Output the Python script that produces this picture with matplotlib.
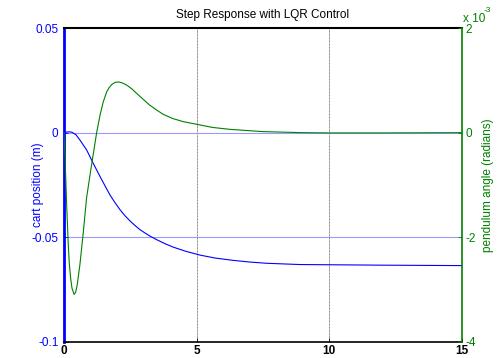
import matplotlib
matplotlib.use("Agg")
import matplotlib.pyplot as plt

# ---- data ----
t_cart = [0, 0.1, 0.2, 0.3, 0.45, 0.6, 0.72, 0.85, 0.98, 1.1, 1.23, 1.36, 1.55,
          1.73, 1.92, 2.11, 2.3, 2.49, 2.68, 2.86, 3.05, 3.24, 3.49, 3.8, 4.12,
          4.6, 5.13, 5.7, 6.37, 7.0, 7.64, 8.9, 10, 12, 15]
cart_pos = [0, 0.0003, 0.0004, 0.0002, -0.001, -0.0035, -0.0058, -0.0082,
            -0.0115, -0.0146, -0.0178, -0.021, -0.0255, -0.0297, -0.0334,
            -0.0368, -0.0397, -0.0422, -0.0444, -0.0463, -0.0479, -0.0494,
            -0.0511, -0.053, -0.0547, -0.0567, -0.0585, -0.0599, -0.061, -0.0618,
            -0.0624, -0.063, -0.0631, -0.0633, -0.0635]

t_pend = [0, 0.04, 0.1, 0.16, 0.2, 0.25, 0.3, 0.38, 0.44, 0.5, 0.6, 0.73, 0.85,
          0.98, 1.1, 1.23, 1.36, 1.48, 1.61, 1.7, 1.8, 1.92, 2.05, 2.2, 2.36,
          2.55, 2.74, 2.98, 3.22, 3.5, 3.74, 4.1, 4.5, 5.0, 5.6, 6.26, 7.5, 9,
          10, 12, 15]
pend_angle_e3 = [0, -0.49, -1.38, -2.14, -2.5, -2.78, -2.97, -3.09, -3.05,
                 -2.9, -2.52, -1.89, -1.25, -0.81, -0.42, 0, 0.34, 0.59, 0.78,
                 0.86, 0.92, 0.96, 0.97, 0.95, 0.91, 0.84, 0.75, 0.64, 0.53,
                 0.43, 0.35, 0.27, 0.21, 0.16, 0.10, 0.063, 0.02, 0.0, -0.005,
                 -0.005, 0]

x_ticks = [0, 5, 10, 15]
left_ticks = [-0.1, -0.05, 0, 0.05]
left_labels = ["-0.1", "-0.05", "0", "0.05"]
right_ticks = [-4, -2, 0, 2]
right_labels = ["-4", "-2", "0", "2"]

title = "Step Response with LQR Control"
left_label = "cart position (m)"
right_label = "pendulum angle (radians)"

# ---- plot ----
W, H = 498, 358
plt.rcParams['font.family'] = ['Liberation Sans', 'DejaVu Sans']
fig = plt.figure(figsize=(W / 100, H / 100), dpi=100)

blue = '#0000ff'
green = '#008000'

ax = fig.add_axes([64 / W, 1 - 342 / H, (462 - 64) / W, (342 - 28) / H])
ax2 = ax.twinx()

ax.plot(t_cart, cart_pos, color=blue, lw=0.8, zorder=3)
ax2.plot(t_pend, pend_angle_e3, color=green, lw=0.8, zorder=3)

ax.set_xlim(0, 15)
ax.set_ylim(-0.1, 0.05)
ax2.set_ylim(-4, 2)

ax.set_xticks(x_ticks)
ax.set_xticklabels([str(v) for v in x_ticks], fontweight='bold', fontsize=8.5)
ax.set_yticks(left_ticks)
ax.set_yticklabels(left_labels, color=blue, fontsize=8.5)
ax2.set_yticks(right_ticks)
ax2.set_yticklabels(right_labels, color=green, fontsize=8.5)

ax.tick_params(axis='x', direction='in', length=3, width=0.6, pad=2.5)
ax.tick_params(axis='y', direction='in', length=3, width=0.6, pad=4,
               colors=blue, labelcolor=blue)
ax2.tick_params(axis='y', direction='in', length=3, width=0.6, colors=green,
                labelcolor=green, pad=2.5)

# grids
for xv in [5, 10]:
    ax.axvline(xv, color='#808080', lw=0.7, ls=(0, (1, 0.5)), zorder=1)
for yv in [0, -0.05]:
    ax.axhline(yv, color='#9999ff', lw=0.8, zorder=1)

# spines
ax.spines['left'].set_color(blue)
ax.spines['left'].set_linewidth(2)
ax.spines['top'].set_color('black')
ax.spines['top'].set_linewidth(1.5)
ax.spines['bottom'].set_color('black')
ax.spines['bottom'].set_linewidth(1.2)
ax.spines['right'].set_visible(False)
ax2.spines['right'].set_color(green)
ax2.spines['right'].set_linewidth(1.2)
for s in ['left', 'top', 'bottom']:
    ax2.spines[s].set_visible(False)

ax.set_title(title, fontsize=8.5, pad=7)
ax.set_ylabel(left_label, color=blue, fontsize=8.5)
ax.yaxis.set_label_coords(-0.05, 0.5)
ax2.set_ylabel(right_label, color=green, fontsize=8.5, rotation=90)
ax2.yaxis.set_label_coords(1.05, 0.5)

# exponent label, drawn as two texts so it stays inside the figure
fig.text(463 / W, 1 - 22 / H, 'x 10', color=green, fontsize=8.5,
         ha='left', va='baseline')
fig.text(484 / W, 1 - 12 / H, '-3', color=green, fontsize=6,
         ha='left', va='baseline')

fig.savefig('out.png', dpi=100)
